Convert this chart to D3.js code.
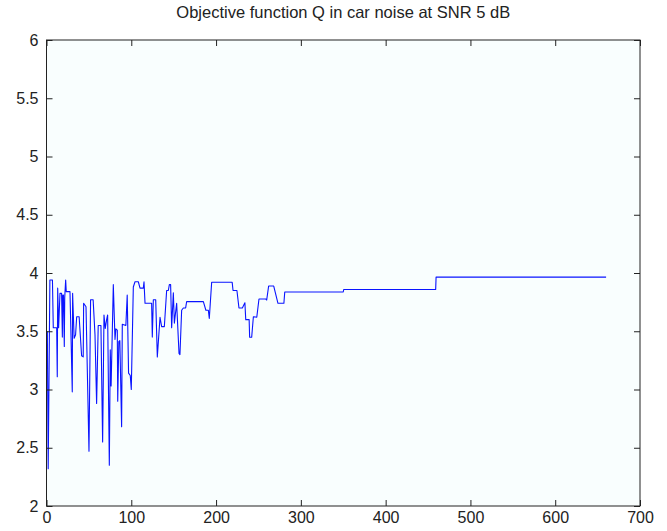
<!DOCTYPE html>
<html>
<head>
<meta charset="utf-8">
<script src="https://cdn.jsdelivr.net/npm/d3@7"></script>
<style>
  html, body { margin: 0; padding: 0; background: #ffffff; }
  svg { display: block; }
  text { font-family: "Liberation Sans", Arial, Helvetica, sans-serif; fill: #222; }
</style>
</head>
<body>
<svg id="chart" width="667" height="531"></svg>
<script>
// Iteration index (x) and objective value Q (y) at each breakpoint of the trace
const iterations = [
  1, 2, 4, 7, 8, 12, 12.7, 13.2, 14.3, 15.9, 17.8, 18.7, 19.2, 20, 21, 21.5, 22.6, 23.3, 27.7,
  30.4, 30.8, 32.6, 34.3, 35.6, 38.5, 41.4, 43.3, 43.8, 46.6, 50.1, 52, 55, 57.2, 59.1, 61,
  64.2, 66.2, 67.8, 69.3, 70.9, 72.1, 74.1, 75.2, 76.2, 78.8, 80.8, 81.8, 83.5, 84, 85.3, 86.5,
  88.6, 89.4, 93.6, 95.2, 96.8, 98.8, 100, 102.4, 104.4, 108.3, 110.3, 114.2, 115, 116.2, 124,
  124.8, 126, 128.8, 130.7, 133.9, 135.8, 139, 141.7, 143.7, 144.9, 146.4, 147.6, 149.6, 150.8,
  153.5, 156.3, 157.4, 159.4, 161.4, 164.1, 165.3, 185, 188, 190.9, 192, 194.8, 219, 220, 224.6,
  227, 231, 234, 235, 239, 239.6, 242, 244, 248, 250.6, 258.5, 259.7, 262, 268, 273, 280, 281,
  350, 350.5, 459, 459.5, 660
];
const qValues = [
  3.50, 2.32, 3.94, 3.94, 3.53, 3.53, 3.11, 3.87, 3.53, 3.825, 3.825, 3.45, 3.81, 3.81, 3.37, 3.79, 3.94, 3.84, 3.84,
  2.98, 3.825, 3.44, 3.47, 3.625, 3.625, 3.29, 3.28, 3.74, 3.71, 2.47, 3.77, 3.77, 3.47, 2.88, 3.55,
  3.55, 2.55, 3.64, 3.525, 3.60, 3.64, 2.35, 3.34, 3.03, 3.90, 3.43, 3.52, 3.51, 2.90, 3.41, 3.42,
  2.68, 3.56, 3.55, 3.81, 3.14, 3.12, 3.00, 3.88, 3.925, 3.925, 3.87, 3.87, 3.925, 3.74, 3.74,
  3.45, 3.77, 3.77, 3.28, 3.62, 3.54, 3.54, 3.85, 3.85, 3.90, 3.90, 3.53, 3.83, 3.57,
  3.74, 3.31, 3.30, 3.68, 3.70, 3.70, 3.754, 3.754, 3.68, 3.68, 3.61, 3.92, 3.92, 3.85, 3.85,
  3.70, 3.70, 3.745, 3.60, 3.60, 3.448, 3.448, 3.625, 3.62, 3.777, 3.777, 3.768, 3.888, 3.888, 3.74, 3.74, 3.837,
  3.837, 3.858, 3.858, 3.965, 3.965
];
const xTicks = [0, 100, 200, 300, 400, 500, 600, 700];
const yTicks = [2, 2.5, 3, 3.5, 4, 4.5, 5, 5.5, 6];
const titleText = "Objective function Q in car noise at SNR 5 dB";

const svg = d3.select("#chart");
const plot = { left: 46.5, right: 640, top: 40, bottom: 506 };

const x = d3.scaleLinear().domain([0, 700]).range([plot.left, plot.right]);
const y = d3.scaleLinear().domain([2, 6]).range([plot.bottom, plot.top]);

// axes background
svg.append("rect")
  .attr("x", plot.left).attr("y", plot.top)
  .attr("width", plot.right - plot.left).attr("height", plot.bottom - plot.top)
  .attr("fill", "#f9fefe");

// data trace
const pts = iterations.map((d, i) => [d, qValues[i]]);
svg.append("path")
  .datum(pts)
  .attr("fill", "none")
  .attr("stroke", "#0a14ff")
  .attr("stroke-width", 1.1)
  .attr("stroke-linejoin", "round")
  .attr("d", d3.line().x(d => x(d[0])).y(d => y(d[1])));

const tickLen = 6;
const fmt = d => String(d);

// bottom axis with labels; ticks point inward
const axBottom = svg.append("g").attr("transform", `translate(0,${plot.bottom})`)
  .call(d3.axisBottom(x).tickValues(xTicks).tickFormat(fmt).tickSizeInner(-tickLen).tickSizeOuter(0));
// top axis, ticks only
const axTop = svg.append("g").attr("transform", `translate(0,${plot.top})`)
  .call(d3.axisTop(x).tickValues(xTicks).tickFormat("").tickSizeInner(-tickLen).tickSizeOuter(0));
// left axis with labels
const axLeft = svg.append("g").attr("transform", `translate(${plot.left},0)`)
  .call(d3.axisLeft(y).tickValues(yTicks).tickFormat(fmt).tickSizeInner(-tickLen).tickSizeOuter(0).tickPadding(8));
// right axis, ticks only
const axRight = svg.append("g").attr("transform", `translate(${plot.right},0)`)
  .call(d3.axisRight(y).tickValues(yTicks).tickFormat("").tickSizeInner(-tickLen).tickSizeOuter(0));

[axBottom, axTop, axLeft, axRight].forEach(g => {
  g.select(".domain").remove();
  g.selectAll("line").attr("stroke", "#222").attr("stroke-width", 1);
  g.selectAll("text").attr("font-size", 16).attr("fill", "#222")
    .style("font-family", "'Liberation Sans', Arial, Helvetica, sans-serif");
});
axBottom.selectAll("text").attr("dy", "0.71em").attr("y", 6);
axLeft.selectAll("text").attr("dy", "0.32em");

// axes box
svg.append("rect")
  .attr("x", plot.left).attr("y", plot.top)
  .attr("width", plot.right - plot.left).attr("height", plot.bottom - plot.top)
  .attr("fill", "none").attr("stroke", "#222").attr("stroke-width", 1);

// title
svg.append("text")
  .attr("x", (plot.left + plot.right) / 2).attr("y", 18)
  .attr("text-anchor", "middle")
  .attr("font-size", 16.5)
  .text(titleText);
</script>
</body>
</html>
